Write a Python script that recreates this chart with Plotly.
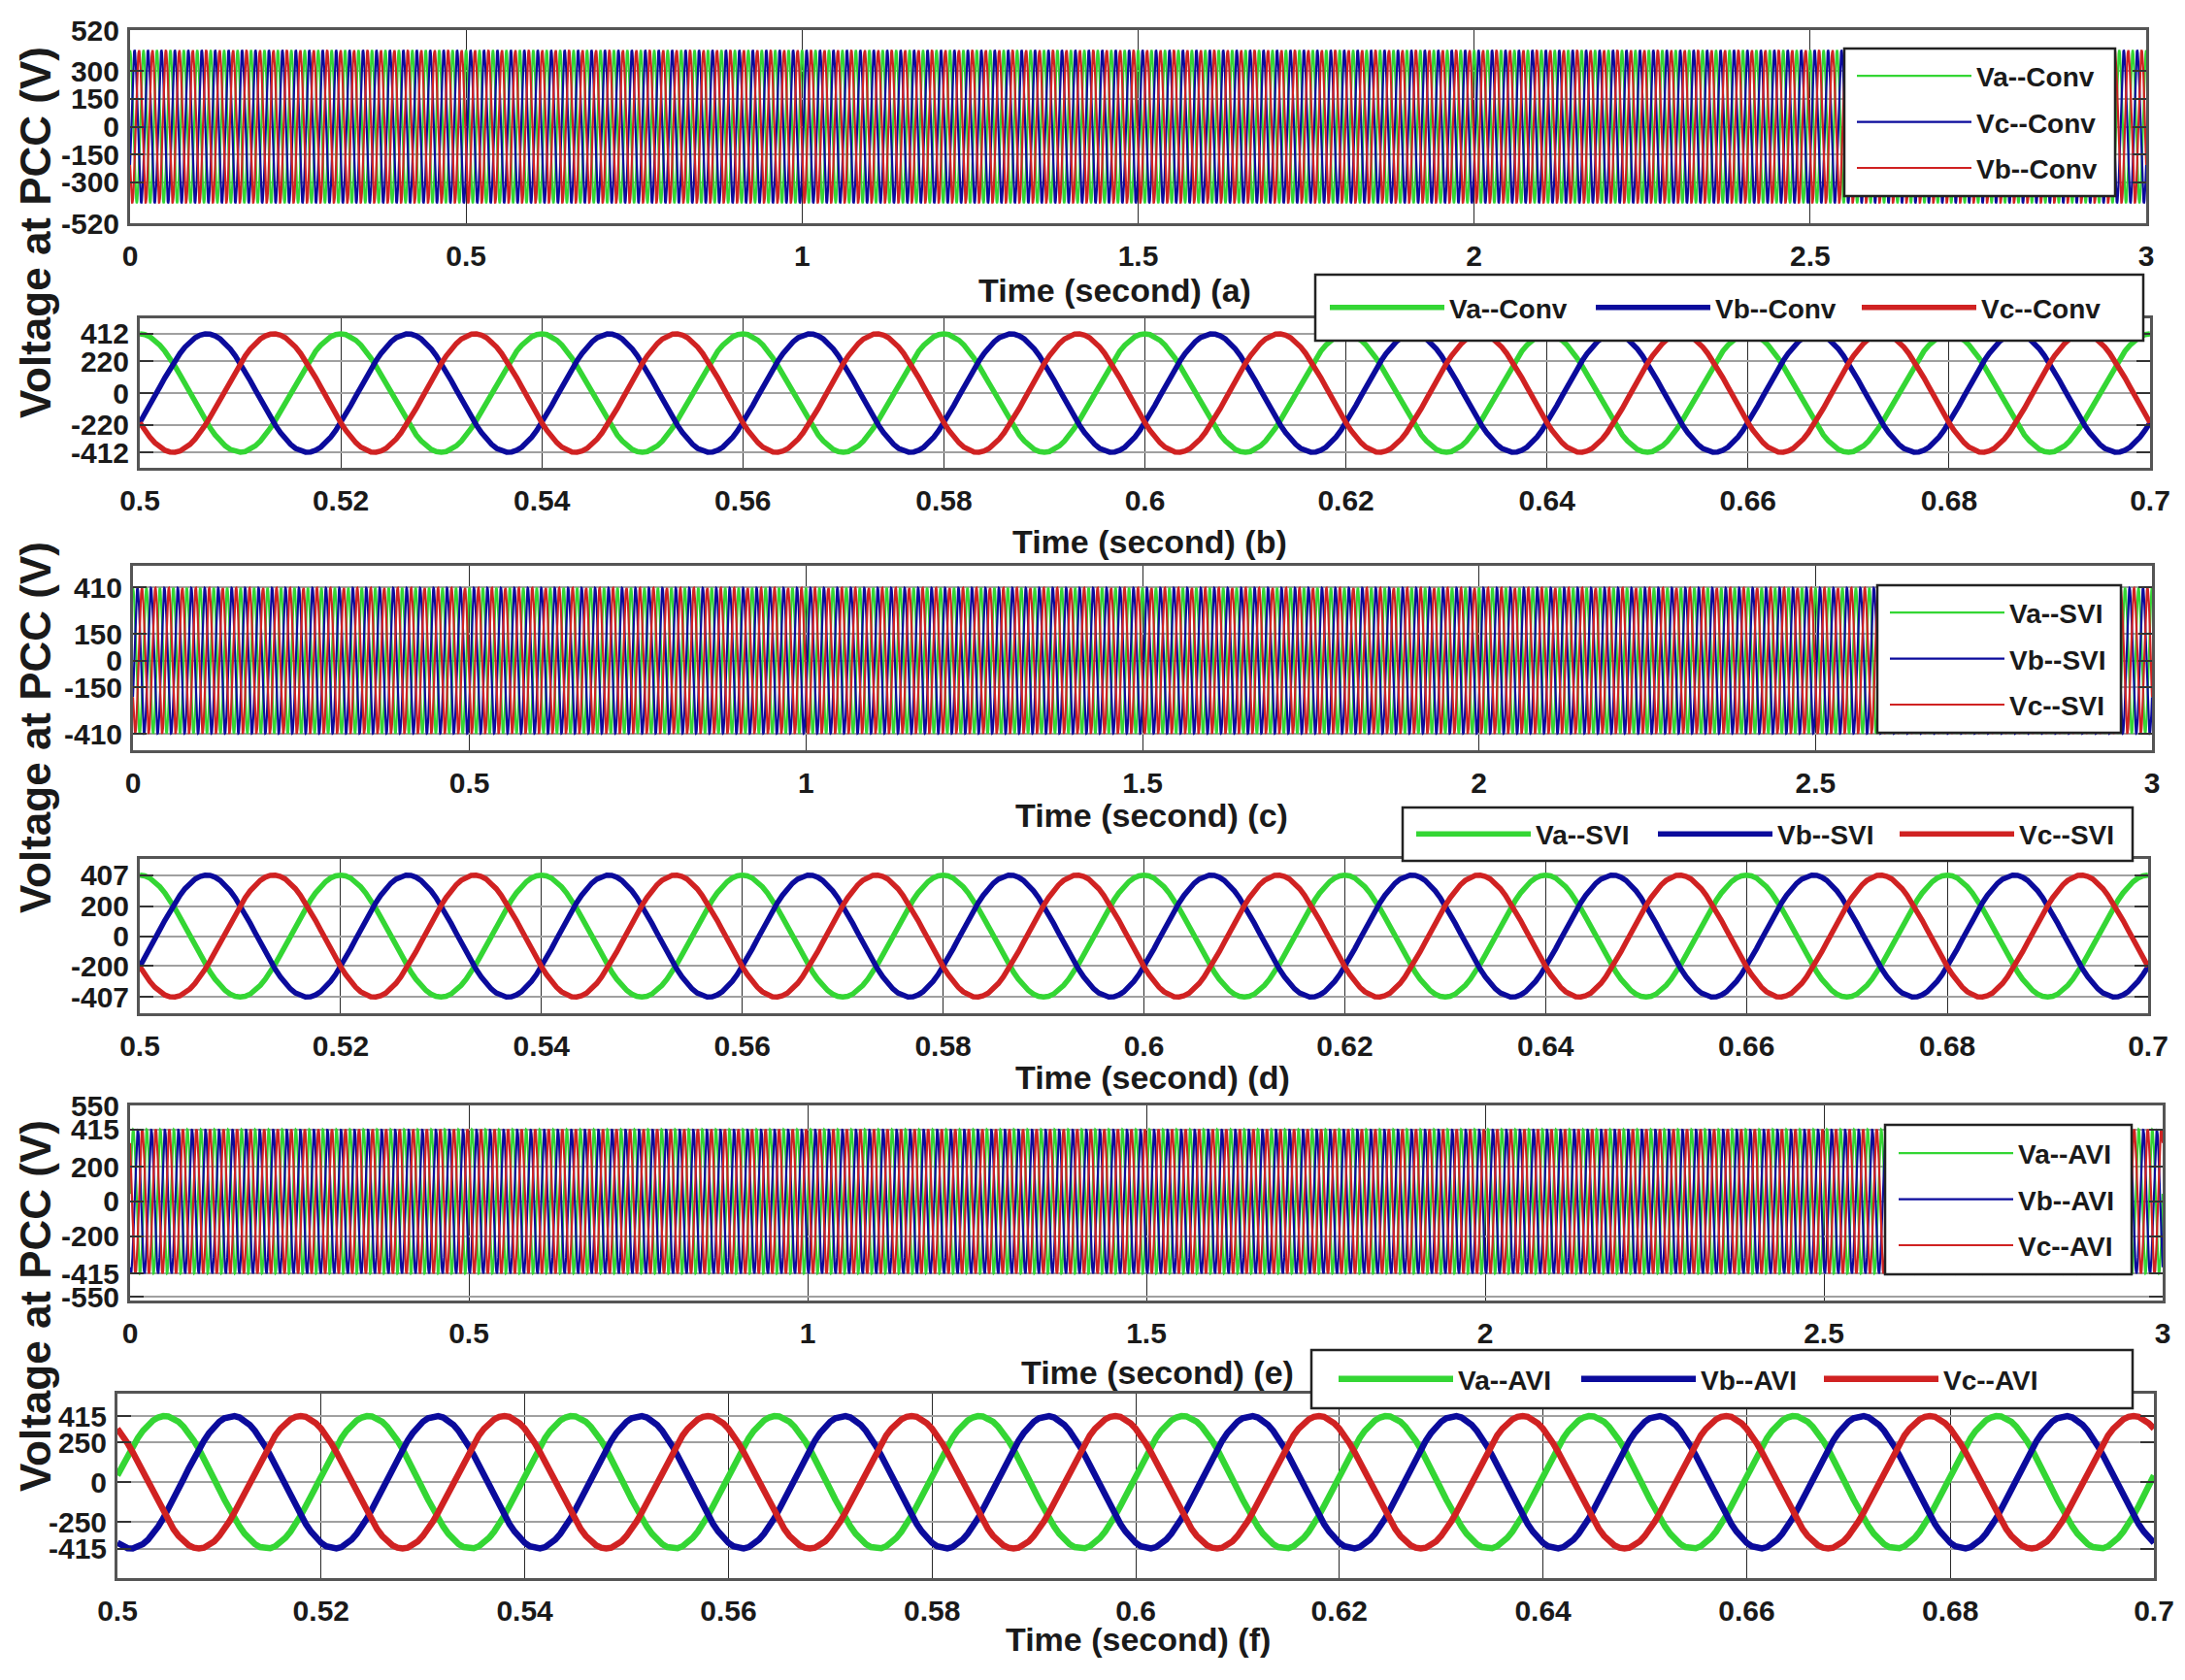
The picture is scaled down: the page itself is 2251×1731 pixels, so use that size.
import numpy as np
import plotly.graph_objects as go

# page is 2251x1731; the html body keeps an 8 px margin, so the figure is
# sized to fit inside it and all reference pixel positions are shifted by 8.
PAGE_W, PAGE_H = 2251, 1731
OFF = 8
FW, FH = PAGE_W - 2 * OFF, PAGE_H - 2 * OFF
FONT = "Liberation Sans, Arial, sans-serif"


def px(x):
    return (x - OFF) / FW


def py(y):
    return 1 - (y - OFF) / FH


# ---------------- data ----------------
FREQ_HZ = 50.0                       # grid frequency
phase_names = ["Va", "Vb", "Vc"]
phase_colors = ["#34d634", "#0b0b9c", "#d02222"]

# peak amplitude (V) and phase angle (deg) of each phase, per controller
conv_amp = [412, 412, 412]
conv_phase_deg = [0, -120, 120]
svi_amp = [407, 407, 407]
svi_phase_deg = [0, -120, 120]
avi_amp = [415, 415, 415]
avi_phase_deg = [-84, -204, 36]

full_window = [0.0, 3.0]
zoom_window = [0.5, 0.7]

full_xticks = [0, 0.5, 1, 1.5, 2, 2.5, 3]
full_xtext = ["0", "0.5", "1", "1.5", "2", "2.5", "3"]
zoom_xticks = [0.5, 0.52, 0.54, 0.56, 0.58, 0.6, 0.62, 0.64, 0.66, 0.68, 0.7]
zoom_xtext = ["0.5", "0.52", "0.54", "0.56", "0.58", "0.6", "0.62", "0.64", "0.66", "0.68", "0.7"]

yticks_a = [520, 300, 150, 0, -150, -300, -520]
yticks_b = [412, 220, 0, -220, -412]
yticks_c = [410, 150, 0, -150, -410]
yticks_d = [407, 200, 0, -200, -407]
yticks_e = [550, 415, 200, 0, -200, -415, -550]
yticks_f = [415, 250, 0, -250, -415]

yrange_a = [-520, 520]
yrange_b = [-520, 520]
yrange_c = [-500, 530]
yrange_d = [-515, 515]
yrange_e = [-570, 552]
yrange_f = [-600, 555]

legend_a = ["Va--Conv", "Vc--Conv", "Vb--Conv"]
legend_b = ["Va--Conv", "Vb--Conv", "Vc--Conv"]
legend_c = ["Va--SVI", "Vb--SVI", "Vc--SVI"]
legend_d = ["Va--SVI", "Vb--SVI", "Vc--SVI"]
legend_e = ["Va--AVI", "Vb--AVI", "Vc--AVI"]
legend_f = ["Va--AVI", "Vb--AVI", "Vc--AVI"]

xlabels = ["Time (second) (a)", "Time (second) (b)", "Time (second) (c)",
           "Time (second) (d)", "Time (second) (e)", "Time (second) (f)"]
ylabel = "Voltage at PCC (V)"

# ---------------- layout (reference page pixel boxes) ----------------
panels = [
    dict(win=full_window, amp=conv_amp, ph=conv_phase_deg, names=legend_a, yt=yticks_a, yr=yrange_a,
         box=(134, 2211, 31, 230), lw=2.2, legbox=(1900, 2179, 50, 202), legx=1900,
         orient="v", xlab=(1148, 299)),
    dict(win=zoom_window, amp=conv_amp, ph=conv_phase_deg, names=legend_b, yt=yticks_b, yr=yrange_b,
         box=(144, 2215, 328, 482), lw=5.5, legbox=(1355, 2208, 283, 351), legx=1357,
         orient="h", xlab=(1184, 558), ew=275),
    dict(win=full_window, amp=svi_amp, ph=svi_phase_deg, names=legend_c, yt=yticks_c, yr=yrange_c,
         box=(137, 2217, 583, 773), lw=2.2, legbox=(1934, 2185, 603, 755), legx=1934,
         orient="v", xlab=(1186, 840)),
    dict(win=zoom_window, amp=svi_amp, ph=svi_phase_deg, names=legend_d, yt=yticks_d, yr=yrange_d,
         box=(144, 2213, 885, 1044), lw=5.5, legbox=(1445, 2197, 832, 887), legx=1446,
         orient="h", xlab=(1187, 1110), ew=250),
    dict(win=full_window, amp=avi_amp, ph=avi_phase_deg, names=legend_e, yt=yticks_e, yr=yrange_e,
         box=(134, 2228, 1139, 1340), lw=2.2, legbox=(1942, 2196, 1159, 1313), legx=1943,
         orient="v", xlab=(1192, 1414)),
    dict(win=zoom_window, amp=avi_amp, ph=avi_phase_deg, names=legend_f, yt=yticks_f, yr=yrange_f,
         box=(121, 2219, 1436, 1626), lw=6.5, legbox=(1351, 2197, 1391, 1451), legx=1366,
         orient="h", xlab=(1172, 1689), ew=251),
]

fig = go.Figure()
layout = dict(width=FW, height=FH, margin=dict(l=0, r=0, t=0, b=0, autoexpand=False),
              paper_bgcolor="white", plot_bgcolor="white",
              font=dict(family=FONT, size=30, color="#1a1a1a"), annotations=[], shapes=[])

for i, p in enumerate(panels):
    k = "" if i == 0 else str(i + 1)
    lg = "legend" if i == 0 else "legend" + str(i + 1)
    full = p["win"] == full_window
    step = 1.0 / (FREQ_HZ * 40)
    t = np.arange(p["win"][0], p["win"][1] + step / 2, step)
    for j in range(3):
        v = p["amp"][j] * np.cos(2 * np.pi * FREQ_HZ * t + np.deg2rad(p["ph"][j]))
        fig.add_trace(go.Scatter(
            x=t, y=v, mode="lines", name=p["names"][j],
            line=dict(color=phase_colors[j], width=p["lw"]),
            xaxis="x" + k, yaxis="y" + k, legend=lg, showlegend=True,
            legendgroup="g%d_%d" % (i, j)))
    l, r, tp, b = p["box"]
    layout["xaxis" + k] = dict(
        domain=[px(l), px(r)], anchor="y" + k, range=p["win"],
        tickvals=full_xticks if full else zoom_xticks,
        ticktext=full_xtext if full else zoom_xtext,
        showgrid=True, gridcolor="#2a2a2a", gridwidth=1,
        showline=True, linecolor="#555555", linewidth=3, mirror=True,
        ticks="", zeroline=False, ticklabelstandoff=5, automargin=False,
        tickfont=dict(size=30, family=FONT, color="#1a1a1a", weight="bold"))
    layout["yaxis" + k] = dict(
        domain=[py(b), py(tp)], anchor="x" + k, range=p["yr"],
        tickvals=p["yt"], ticktext=[str(v) for v in p["yt"]],
        showgrid=True, gridcolor="#a0a0a0", gridwidth=2,
        showline=True, linecolor="#555555", linewidth=3, mirror="allticks",
        ticks="inside", ticklen=14, tickcolor="#333333", tickwidth=2,
        zeroline=False, ticklabelstandoff=2, automargin=False,
        tickfont=dict(size=30, family=FONT, color="#1a1a1a", weight="bold"))
    # legend frame
    bl, br, bt, bb = p["legbox"]
    layout["shapes"].append(dict(type="rect", xref="paper", yref="paper",
                                 x0=px(bl), x1=px(br), y0=py(bb), y1=py(bt),
                                 fillcolor="white", line=dict(color="#222222", width=2.5),
                                 layer="above"))
    leg = dict(x=(p["legx"]) / FW, y=py((bt + bb) / 2), xanchor="left", yanchor="middle",
               bgcolor="rgba(0,0,0,0)", borderwidth=0,
               font=dict(size=28, family=FONT, color="#1a1a1a", weight="bold"),
               itemwidth=118, orientation=p["orient"],
               itemclick=False, itemdoubleclick=False)
    if p["orient"] == "h":
        leg.update(entrywidth=p["ew"] - 134, entrywidthmode="pixels", tracegroupgap=0)
    else:
        leg.update(tracegroupgap=8)
    layout[lg] = leg
    xl, yl = p["xlab"]
    layout["annotations"].append(dict(
        text="<b>" + xlabels[i] + "</b>", x=px(xl), y=py(yl), xref="paper", yref="paper",
        xanchor="center", yanchor="middle", showarrow=False,
        font=dict(size=34, family=FONT, color="#1a1a1a")))

for yc in [240, 750, 1346]:
    layout["annotations"].append(dict(
        text="<b>" + ylabel + "</b>", x=px(36), y=py(yc), xref="paper", yref="paper",
        xanchor="center", yanchor="middle", showarrow=False, textangle=-90,
        font=dict(size=44, family=FONT, color="#1a1a1a")))

fig.update_layout(**layout)
fig.write_html("out.html")
